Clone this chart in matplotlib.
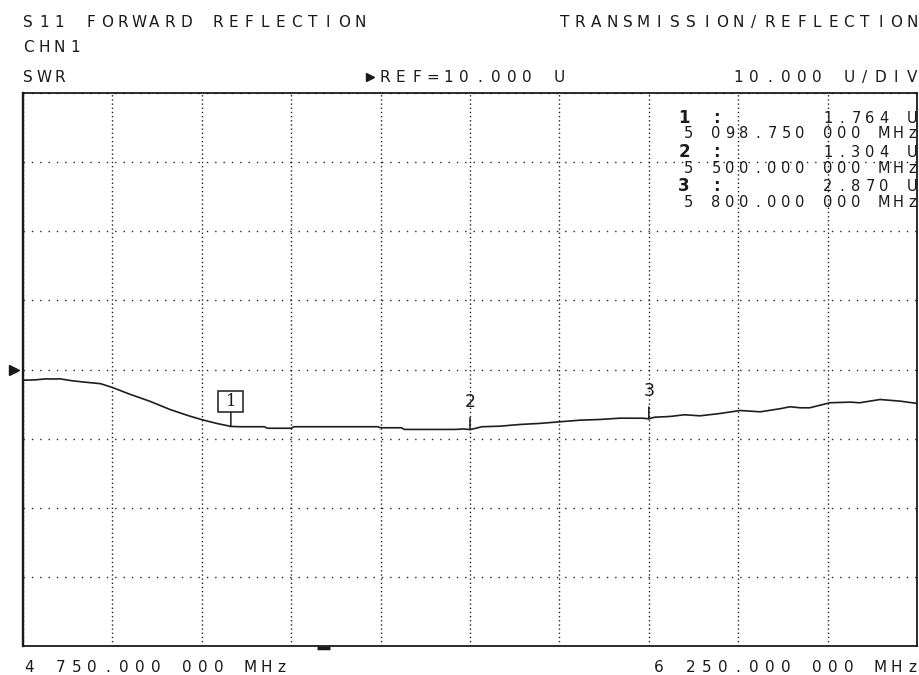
import numpy as np
import matplotlib
matplotlib.use("Agg")
import matplotlib.pyplot as plt
from matplotlib.patches import Rectangle
from matplotlib.transforms import blended_transform_factory, IdentityTransform

# sweep settings (MHz) and scale (U)
start_mhz = 4750.0
stop_mhz = 6250.0
ref_level = 10.0
scale_per_div = 10.0

# SWR trace
freq_mhz = [4750, 4770, 4790, 4800, 4812, 4830, 4850, 4880, 4900, 4930, 4963, 4997,
            5030, 5052, 5075, 5099, 5115, 5155, 5160, 5200, 5205, 5345, 5350, 5385,
            5390, 5475, 5490, 5500, 5510, 5520, 5550, 5584, 5617, 5651, 5685, 5718,
            5752, 5790, 5800, 5810, 5835, 5860, 5886, 5920, 5953, 5987, 6020, 6037,
            6054, 6070, 6104, 6138, 6154, 6188, 6222, 6250]
swr = [8.45, 8.5, 8.65, 8.62, 8.65, 8.4, 8.2, 7.95, 7.4, 6.4, 5.4, 4.2,
       3.25, 2.7, 2.2, 1.764, 1.72, 1.72, 1.5, 1.5, 1.72, 1.72, 1.57, 1.57,
       1.33, 1.33, 1.4, 1.304, 1.5, 1.72, 1.8, 2.05, 2.2, 2.44, 2.67, 2.77,
       2.96, 2.95, 2.87, 3.1, 3.2, 3.45, 3.3, 3.64, 4.07, 3.88, 4.32, 4.61,
       4.46, 4.46, 5.19, 5.28, 5.19, 5.66, 5.42, 5.09]

# markers
marker_id = ["1", "2", "3"]
marker_freq = [5098.75, 5500.0, 5800.0]
marker_swr = [1.764, 1.304, 2.870]

title_left = "S11 FORWARD REFLECTION"
title_right = "TRANSMISSION/REFLECTION"
channel = "CHN1"
fmt_label = "SWR"
ref_label = "REF=10.000 U"
div_label = "10.000 U/DIV"
start_label = "4 750.000 000 MHz"
stop_label = "6 250.000 000 MHz"

INK = "#1a1a1a"
SANS = ["DejaVu Sans"]

fig = plt.figure(figsize=(9.2, 6.75), dpi=100)
fig.patch.set_facecolor("white")

ax = fig.add_axes([23 / 920, 29 / 675, 894 / 920, 553 / 675])
ax.set_xlim(start_mhz, stop_mhz)
top = ref_level + 4 * scale_per_div
bottom = ref_level - 4 * scale_per_div
ax.set_ylim(bottom, top)
ax.set_xticks(np.linspace(start_mhz, stop_mhz, 11))
ax.set_yticks(np.arange(bottom, top + 1, scale_per_div))
ax.tick_params(length=0, labelbottom=False, labelleft=False)
ax.xaxis.grid(True, linestyle=(0, (1, 2)), linewidth=1.0, color="#222222")
ax.yaxis.grid(True, linestyle=(0, (1, 5)), linewidth=1.0, color="#222222")
for side in ax.spines.values():
    side.set_linewidth(1.3)
    side.set_color(INK)
ax.spines["left"].set_linewidth(1.7)

ax.plot(freq_mhz, swr, color="#1e1e1e", linewidth=1.2)

# marker 1 is the active one: boxed label on a short stem
px, py = ax.transData.transform((marker_freq[0], marker_swr[0]))
box_w, box_h, gap = 25, 21, 14
ax.annotate("", xy=(marker_freq[0], marker_swr[0]), xytext=(0, gap * 0.72),
            textcoords="offset points",
            arrowprops=dict(arrowstyle="-", color=INK, lw=1.1, shrinkA=0, shrinkB=0))
ax.add_patch(Rectangle((px - box_w / 2, py + gap), box_w, box_h, fc="white", ec=INK,
                       lw=1.1, transform=IdentityTransform(), clip_on=False, zorder=5))
ax.annotate(marker_id[0], xy=(marker_freq[0], marker_swr[0]),
            xytext=(0, (gap + box_h / 2) * 0.72), textcoords="offset points",
            ha="center", va="center", fontsize=12, family="DejaVu Serif", color=INK,
            zorder=6)
for i in range(1, 3):
    ax.annotate(marker_id[i], xy=(marker_freq[i], marker_swr[i]), xytext=(0, 20),
                textcoords="offset points", ha="center", va="center", fontsize=12.5,
                family=SANS, color=INK,
                arrowprops=dict(arrowstyle="-", color=INK, lw=1.1, shrinkA=3, shrinkB=0))

# reference level pointer at the left edge
trans = blended_transform_factory(ax.transAxes, ax.transData)
ax.plot([-0.0105], [ref_level], marker=">", markersize=7, color=INK,
        transform=trans, clip_on=False)

# overlay in pixel coordinates for the screen annotations
ov = fig.add_axes([0, 0, 1, 1], facecolor="none")
ov.set_xlim(0, 920)
ov.set_ylim(675, 0)
ov.set_axis_off()


def mono(x, y, s, pitch=15.8, size=11, align="left", weight="normal"):
    n = len(s)
    if align == "left":
        x0 = x + 5
    else:
        x0 = x - 5 - (n - 1) * pitch
    for i, ch in enumerate(s):
        if ch != " ":
            ov.text(x0 + i * pitch, y, ch, ha="center", va="baseline", fontsize=size,
                    family=SANS, weight=weight, color=INK)


mono(23, 27, title_left)
mono(917, 27, title_right, align="right")
mono(23, 52, channel)
mono(23, 82, fmt_label)
ov.plot([370], [77], marker=">", markersize=6, color=INK)
mono(380, 82, ref_label)
mono(917, 82, div_label, align="right")
mono(24, 672, start_label)
mono(917, 672, stop_label, align="right")

# marker readout block
row_y = [(123, 138), (157, 173), (191, 207)]
for i in range(3):
    f = marker_freq[i]
    freq_txt = "%d %07.3f 000 MHz" % (int(f // 1000), f % 1000)
    val_txt = "%.3f U" % marker_swr[i]
    mono(679, row_y[i][0], marker_id[i] + " :", pitch=16, size=12, weight="bold")
    mono(917, row_y[i][0], val_txt, pitch=14, size=10.5, align="right")
    mono(917, row_y[i][1], freq_txt, pitch=14, size=10.5, align="right")

# small stimulus pointer under the frame
ov.plot([317, 330], [648, 648], color=INK, linewidth=2.5, solid_capstyle="butt")

fig.savefig("out.png", dpi=100, facecolor="white")
